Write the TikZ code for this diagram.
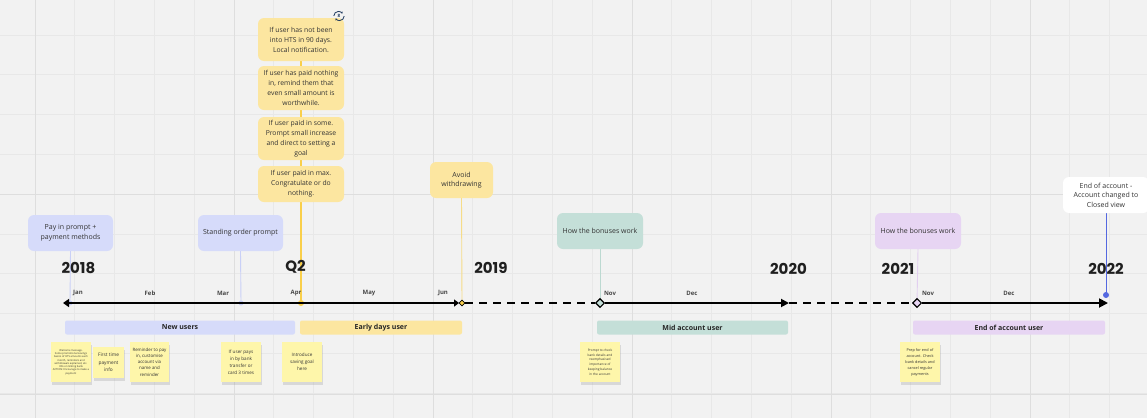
\documentclass[tikz,border=0pt]{standalone}
\usepackage{fontspec}
\setmainfont{Open Sans}
\newfontfamily\yearfont{Poppins}
\usetikzlibrary{shapes.geometric,arrows.meta,shadows}
\definecolor{bgc}{HTML}{F2F2F2}
\definecolor{gminor}{HTML}{E8E8E8}
\definecolor{gmajor}{HTML}{DEDEDE}
\definecolor{lav}{HTML}{D6DBFA}
\definecolor{lavline}{HTML}{C9D0F7}
\definecolor{ylw}{HTML}{FCE6A0}
\definecolor{ylwline}{HTML}{F9CF4A}
\definecolor{ylwthin}{HTML}{F6DC88}
\definecolor{tealc}{HTML}{C4DFD8}
\definecolor{tealline}{HTML}{BCD9D1}
\definecolor{lil}{HTML}{E7D5F3}
\definecolor{lilline}{HTML}{E2CFF0}
\definecolor{sticky}{HTML}{FEF6AA}
\definecolor{txt}{HTML}{333333}
\definecolor{bluec}{HTML}{5468E0}
\definecolor{navy}{HTML}{1F3A5F}
\pgfdeclarelayer{gridl}
\pgfdeclarelayer{links}
\pgfsetlayers{gridl,links,main}
\begin{document}
\begin{tikzpicture}[x=1pt,y=-1pt,
  box/.style={rounded corners=6pt, minimum width=85pt, minimum height=36pt, align=center, text=txt, inner sep=1pt, font=\fontsize{7}{9.5}\selectfont},
  sbox/.style={box, fill=ylw, minimum width=86pt, font=\fontsize{6.8}{10}\selectfont},
  bar/.style={minimum height=14pt, rounded corners=2pt, font=\fontsize{7}{8}\selectfont\bfseries, text=black!85, inner sep=0pt},
  stickynote/.style={fill=sticky, align=center, text=txt, inner sep=0.5pt, drop shadow={opacity=0.22, shadow xshift=0.5pt, shadow yshift=-2.5pt}},
  yr/.style={font=\yearfont\bfseries\fontsize{15}{15}\selectfont, text=black!88},
  mon/.style={font=\fontsize{6}{6}\selectfont\bfseries, text=black!72},
  link/.style={line width=0.9pt},
  dotn/.style={circle, inner sep=0pt, minimum size=5pt},
  dmd/.style={diamond, draw=black, line width=1.1pt, inner sep=0pt, minimum size=9pt},
  axis/.style={line width=1.8pt, black}
]
\useasboundingbox (0,0) rectangle (1147,418);
\begin{pgfonlayer}{gridl}
\begin{scope}
\clip (0,0) rectangle (1147,418);
\fill[bgc] (0,0) rectangle (1147,418);
\foreach \i in {0,...,29} \draw[gminor, line width=0.7pt] ({-4.8+\i*39.8},0) -- ++(0,418);
\foreach \i in {0,...,11} \draw[gminor, line width=0.7pt] (0,{-4.8+\i*39.8}) -- ++(1147,0);
\foreach \i in {0,...,5} \draw[gmajor, line width=0.9pt] ({35+\i*199},0) -- ++(0,418);
\foreach \i in {1,2} \draw[gmajor, line width=0.9pt] (0,{-5+\i*199.5}) -- ++(1147,0);
\end{scope}
\end{pgfonlayer}

% top boxes
\node[box, fill=lav] (pay) at (70.5,233) {Pay in prompt +\\payment methods};
\node[box, fill=lav] (sop) at (240.5,233) {Standing order prompt};
\node[sbox, minimum height=43pt] (b1) at (301,39.5) {If user has not been\\into HTS in 90 days.\\Local notification.};
\node[sbox, minimum height=44pt] (b2) at (301,88) {If user has paid nothing\\in, remind them that\\even small amount is\\worthwhile.};
\node[sbox, minimum height=43pt] (b3) at (301,138.5) {If user paid in some.\\Prompt small increase\\and direct to setting a\\goal};
\node[sbox, minimum height=36pt] (b4) at (301,184) {If user paid in max.\\Congratulate or do\\nothing.};
\node[circle, inner sep=0pt, minimum size=10pt, font=\fontsize{4.5}{4.5}\selectfont\bfseries, text=navy] (icon) at (339,16) {8};
\draw[navy, line width=0.8pt, -{Stealth[length=2pt,width=2.5pt]}] (icon.east) arc[start angle=0, end angle=150, radius=4.6];
\draw[navy, line width=0.8pt, -{Stealth[length=2pt,width=2.5pt]}] (icon.west) arc[start angle=180, end angle=330, radius=4.6];
\node[box, fill=ylw, minimum width=63pt] (avoid) at (461.5,180) {Avoid\\withdrawing};
\node[box, fill=tealc, minimum width=86pt] (hb1) at (600,231) {How the bonuses work};
\node[box, fill=lil, minimum width=86pt] (hb2) at (918,231) {How the bonuses work};
\node[box, fill=white, minimum width=86pt] (endb) at (1106,195) {End of account -\\Account changed to\\Closed view};

% years
\node[yr] (y18) at (78.5,268) {2018};
\node[yr] (yq2) at (295.5,267) {Q2};
\node[yr] (y19) at (491,268) {2019};
\node[yr] (y20) at (788.5,269) {2020};
\node[yr] (y21) at (898,269) {2021};
\node[yr] (y22) at (1106,269) {2022};

% months
\node[mon] (m1) at (78,293) {Jan};
\node[mon] (m2) at (150,293) {Feb};
\node[mon] (m3) at (223,293) {Mar};
\node[mon] (m4) at (296,293) {Apr};
\node[mon] (m5) at (369,293) {May};
\node[mon] (m6) at (443,293) {Jun};
\node[mon] (m7) at (610,293) {Nov};
\node[mon] (m8) at (692,293) {Dec};
\node[mon] (m9) at (928,293) {Nov};
\node[mon] (m10) at (1009,293) {Dec};

% axis markers
\coordinate (a0) at (63,303);
\coordinate (a1) at (459,303);
\coordinate (a2) at (789,303);
\coordinate (a3) at (1108,303);
\node[dotn, fill=lavline] (pd) at (70,303) {};
\node[dotn, fill=lavline] (sd) at (241,303) {};
\node[dotn, fill=ylwline, minimum size=6pt] (ydot) at (301,303) {};
\node[diamond, fill=ylwline, draw=black, line width=0.6pt, inner sep=0pt, minimum size=6pt] (yd) at (462,303) {};
\node[dmd, fill=tealc] (d1) at (600,303) {};
\node[dmd, fill=lil] (d2) at (917,303) {};
\node[dotn, fill=bluec, minimum size=6pt] (bd) at (1106,295) {};

% connectors
\begin{pgfonlayer}{links}
\draw[link, lavline] (pay.south) -- (pd.center);
\draw[link, lavline] (sop.south) -- (sd.center);
\draw[link, ylwline, line width=1.3pt] (b1.south) -- (ydot.center);
\draw[link, ylwthin] (avoid.south) -- (yd.center);
\draw[link, tealline] (hb1.south) -- (d1.center);
\draw[link, lilline] (hb2.south) -- (d2.center);
\draw[link, bluec, line width=1pt] (endb.south) -- (bd.center);
\end{pgfonlayer}

\draw[axis, {Triangle[length=6pt,width=8pt]}-{Triangle[length=5pt,width=7pt]}] (a0) -- (a1);
\draw[axis, dash pattern=on 8pt off 6pt] (yd) -- (d1);
\draw[axis, -{Triangle[length=8pt,width=8pt]}] (d1) -- (a2);
\draw[axis, dash pattern=on 8pt off 6pt] (a2) -- (d2);
\draw[axis, -{Triangle[length=9pt,width=9pt]}] (d2) -- (a3);

% phase bars
\node[bar, fill=lav, minimum width=230pt] (nu) at (180,327.5) {New users};
\node[bar, fill=ylw, minimum width=162pt] (ed) at (381,327.5) {Early days user};
\node[bar, fill=tealc, minimum width=191pt] (ma) at (692.5,327.5) {Mid account user};
\node[bar, fill=lil, minimum width=192pt] (ea) at (1009,327.5) {End of account user};

% sticky notes
\node[stickynote, minimum width=40pt, minimum height=40pt, font=\fontsize{2.6}{3.3}\selectfont] (s1) at (71,362) {Welcome message.\\Some promotional savings\\basics of HTS amounts each\\month, reminders and\\withdrawals explained, etc.\\Info on linking bank\\ACTION: Encourage to make a\\payment};
\node[stickynote, minimum width=31pt, minimum height=31pt, font=\fontsize{4.8}{7.5}\selectfont] (s2) at (108.5,362.5) {First time\\payment\\info};
\node[stickynote, minimum width=39pt, minimum height=40pt, font=\fontsize{4.4}{6.2}\selectfont] (s3) at (149.5,362) {Reminder to pay\\in, customise\\account via\\name and\\reminder};
\node[stickynote, minimum width=40pt, minimum height=40pt, font=\fontsize{4.6}{7}\selectfont] (s4) at (241,362) {If user pays\\in by bank\\transfer or\\card 3 times};
\node[stickynote, minimum width=40pt, minimum height=40pt, font=\fontsize{4.6}{7}\selectfont] (s5) at (302,362) {Introduce\\saving goal\\here};
\node[stickynote, minimum width=40pt, minimum height=40pt, font=\fontsize{3.2}{4.8}\selectfont] (s6) at (600,362) {Prompt to check\\bank details and\\reemphasised\\importance of\\keeping balance\\in the account};
\node[stickynote, minimum width=40pt, minimum height=40pt, font=\fontsize{3.8}{6}\selectfont] (s7) at (920,362) {Prep for end of\\account. Check\\bank details and\\cancel regular\\payments};
\end{tikzpicture}
\end{document}
